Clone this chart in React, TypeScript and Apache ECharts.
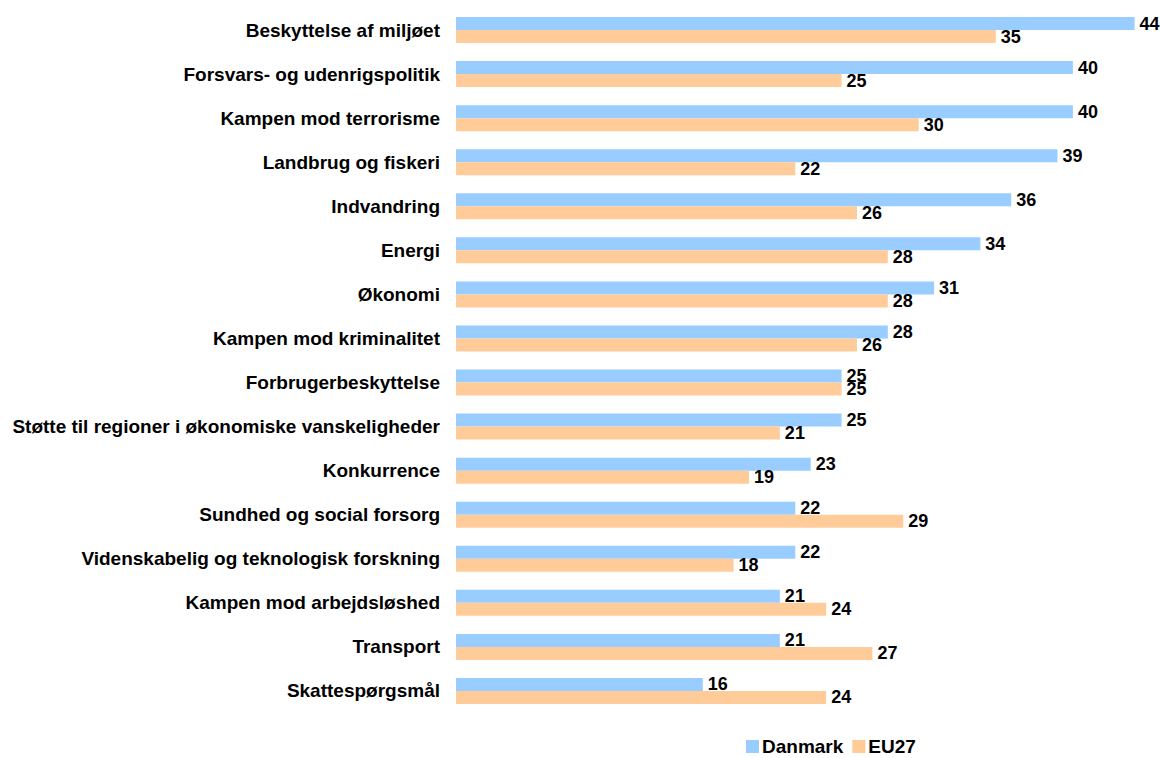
import React, { useEffect, useRef } from "react";
import * as echarts from "echarts";

const categories = [
  "Beskyttelse af miljøet",
  "Forsvars- og udenrigspolitik",
  "Kampen mod terrorisme",
  "Landbrug og fiskeri",
  "Indvandring",
  "Energi",
  "Økonomi",
  "Kampen mod kriminalitet",
  "Forbrugerbeskyttelse",
  "Støtte til regioner i økonomiske vanskeligheder",
  "Konkurrence",
  "Sundhed og social forsorg",
  "Videnskabelig og teknologisk forskning",
  "Kampen mod arbejdsløshed",
  "Transport",
  "Skattespørgsmål",
];
const danmark = [44, 40, 40, 39, 36, 34, 31, 28, 25, 25, 23, 22, 22, 21, 21, 16];
const eu27 = [35, 25, 30, 22, 26, 28, 28, 26, 25, 21, 19, 29, 18, 24, 27, 24];

const FONT = "'Liberation Sans', Arial, Helvetica, sans-serif";

export default function App() {
  const ref = useRef<HTMLDivElement>(null);
  useEffect(() => {
    document.body.style.margin = "0";
    if (!ref.current) return;
    const chart = echarts.init(ref.current, undefined, { renderer: "svg" });
    const label = {
      show: true,
      position: "right" as const,
      distance: 5,
      color: "#000",
      fontFamily: FONT,
      fontWeight: "bold" as const,
      fontSize: 18,
    };
    chart.setOption({
      animation: false,
      backgroundColor: "#fff",
      textStyle: { fontFamily: FONT },
      legend: {
        data: ["Danmark", "EU27"],
        left: 746,
        top: 737,
        padding: 0,
        itemWidth: 13,
        itemHeight: 13,
        itemGap: 9,
        icon: "rect",
        textStyle: { fontFamily: FONT, fontWeight: "bold", fontSize: 19, color: "#000", padding: [0, 0, 0, -2] },
      },
      grid: { left: 456, right: 10, top: 8, height: 705, containLabel: false },
      xAxis: {
        type: "value",
        min: 0,
        max: 45,
        show: false,
        splitLine: { show: false },
      },
      yAxis: {
        type: "category",
        inverse: true,
        data: categories,
        axisLine: { show: false },
        axisTick: { show: false },
        axisLabel: {
          margin: 16,
          color: "#000",
          fontFamily: FONT,
          fontWeight: "bold",
          fontSize: 19,
        },
      },
      series: [
        {
          name: "Danmark",
          type: "bar",
          data: danmark,
          barWidth: 13,
          barGap: "0%",
          itemStyle: { color: "#99CCFF" },
          label,
        },
        {
          name: "EU27",
          type: "bar",
          data: eu27,
          barWidth: 13,
          barGap: "0%",
          itemStyle: { color: "#FFCC99" },
          label,
        },
      ],
    });
    return () => chart.dispose();
  }, []);
  return <div ref={ref} style={{ width: 1160, height: 758 }} />;
}
